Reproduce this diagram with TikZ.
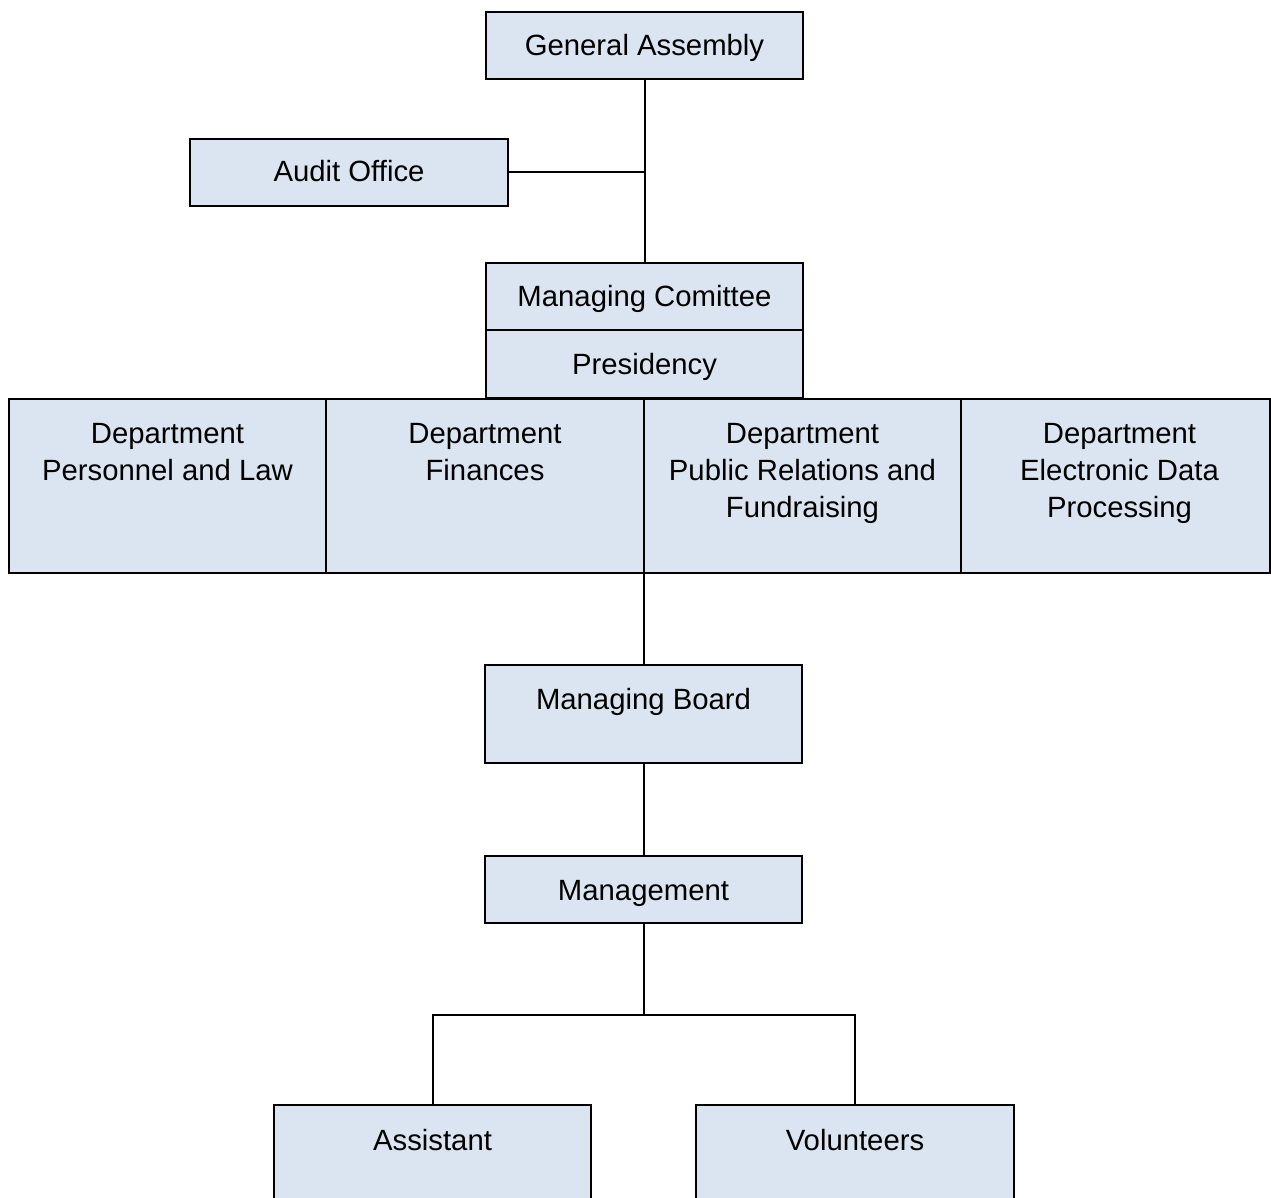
\documentclass[tikz,border=0pt]{standalone}
\usepackage{fontspec}
\setmainfont{Liberation Sans}
\definecolor{boxfill}{HTML}{DBE5F1}
\begin{document}
\begin{tikzpicture}[x=1pt,y=-1pt,
  every node/.style={font=\fontsize{29.3}{37}\selectfont},
  orgbox/.style={draw=black, line width=2pt, fill=boxfill, rectangle, inner sep=0pt, minimum height=67pt},
  boxtext/.style n args={3}{label={[anchor=north, inner sep=0pt, align=center, yshift=#2, xshift=#3, font=\fontsize{29.3}{37}\selectfont]north:#1}},
  toptext/.style={boxtext={#1}{-25.5pt}{0pt}},
  conn/.style={draw=black, line width=2pt}]
\useasboundingbox (0,0) rectangle (1271,1198);
\clip (0,0) rectangle (1271,1198);
\node[orgbox, minimum width=317pt, boxtext={General Assembly}{-23.5pt}{0pt}] (ga) at (644.5,45.5) {};
\node[orgbox, minimum width=318pt, boxtext={Audit Office}{-22.5pt}{0pt}] (audit) at (349,172.5) {};
\node[orgbox, minimum width=317pt, boxtext={Managing Comittee}{-23.5pt}{0pt}] (mc) at (644.5,296.5) {};
\node[orgbox, minimum width=317pt, minimum height=68pt, boxtext={Presidency}{-24.5pt}{0pt}] (pres) at (644.5,364) {};
\node[orgbox, minimum width=317pt, minimum height=174pt, toptext={Department\\Personnel and Law}] (d1) at (167.5,486) {};
\node[orgbox, minimum width=318pt, minimum height=174pt, toptext={Department\\Finances}] (d2) at (485,486) {};
\node[orgbox, minimum width=317pt, minimum height=174pt, toptext={Department\\Public Relations and\\Fundraising}] (d3) at (802.5,486) {};
\node[orgbox, minimum width=309pt, minimum height=174pt, boxtext={Department\\Electronic Data\\Processing}{-25.5pt}{4pt}] (d4) at (1115.5,486) {};
\node[orgbox, minimum width=317pt, minimum height=98pt, boxtext={Managing Board}{-24.5pt}{0pt}] (mb) at (643.5,714) {};
\node[orgbox, minimum width=317pt, toptext={Management}] (mgmt) at (643.5,889.5) {};
\node[orgbox, minimum width=317pt, minimum height=120pt, toptext={Assistant}] (asst) at (432.5,1165) {};
\node[orgbox, minimum width=318pt, minimum height=120pt, toptext={Volunteers}] (vol) at (855,1165) {};
\coordinate (bar) at (643.5,1015);
\draw[conn] (ga.south) -- (mc.north);
\draw[conn] (audit.east) -- (audit.east -| ga.south);
\draw[conn] (mb.north) -- (mb.north |- d3.south);
\draw[conn] (mb.south) -- (mgmt.north);
\draw[conn] (mgmt.south) -- (bar);
\draw[conn] (asst.north) -- (asst.north |- bar) -- (vol.north |- bar) -- (vol.north);
\end{tikzpicture}
\end{document}
